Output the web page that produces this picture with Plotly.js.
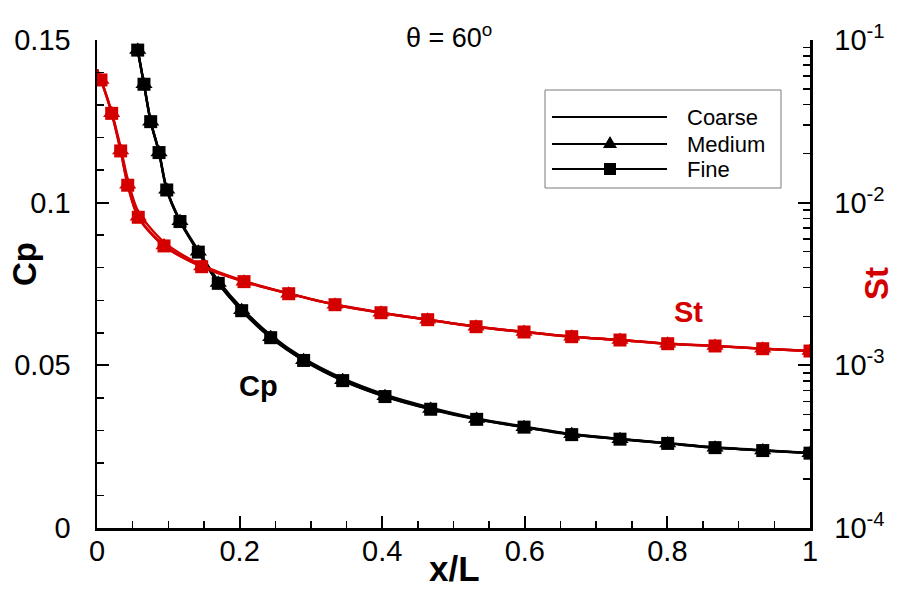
<!DOCTYPE html>
<html>
<head>
<meta charset="utf-8">
<script src="https://cdn.plot.ly/plotly-3.0.1.min.js"></script>
<style>
  html, body { margin: 0; padding: 0; background: #fff; }
  #chart { width: 901px; height: 591px; }
</style>
</head>
<body>
<div id="chart"></div>
<script>
// ---------------- data ----------------
// Cp (left axis), shared x stations of the marked grids
const cpX = [0.0571, 0.0659, 0.0753, 0.0870, 0.0978, 0.1164, 0.1421, 0.1701, 0.2029, 0.2436, 0.2898,
             0.3446, 0.4039, 0.4680, 0.5325, 0.5989, 0.6658, 0.7335, 0.8004, 0.8668, 0.9337, 1.0];
const cpCoarse = [0.1469, 0.1364, 0.1250, 0.1156, 0.1042, 0.0946, 0.0853, 0.0760, 0.0676, 0.0593, 0.0522,
                  0.0460, 0.0410, 0.0370, 0.0337, 0.0312, 0.0289, 0.0274, 0.0261, 0.0248, 0.0239, 0.0231];
const cpMedium = [0.1469, 0.1364, 0.1249, 0.1154, 0.1040, 0.0943, 0.0849, 0.0753, 0.0669, 0.0586, 0.0516,
                  0.0454, 0.0405, 0.0366, 0.0335, 0.0310, 0.0288, 0.0273, 0.0260, 0.0247, 0.0238, 0.0230];
const cpFine   = [0.1469, 0.1364, 0.1249, 0.1154, 0.1039, 0.0942, 0.0848, 0.0752, 0.0668, 0.0585, 0.0515,
                  0.0453, 0.0404, 0.0365, 0.0334, 0.0310, 0.0287, 0.0273, 0.0260, 0.0247, 0.0238, 0.0230];

// St (right, log axis); first station (x = 0) is the start of the curve, no marker there
const stX = [0, 0.0056, 0.0206, 0.0332, 0.0431, 0.0579, 0.0940, 0.1468, 0.2062, 0.2689, 0.3338,
             0.3983, 0.4638, 0.5316, 0.5989, 0.6658, 0.7335, 0.8004, 0.8668, 0.9337, 1.0];
const stCoarse = [0.066, 0.0570, 0.0360, 0.0218, 0.0139, 0.00880, 0.00572, 0.00413, 0.00330, 0.002766, 0.002364,
                  0.002110, 0.001911, 0.001730, 0.001605, 0.001502, 0.001432, 0.001359, 0.001316, 0.001266, 0.001225];
const stMedium = [0.066, 0.0568, 0.0355, 0.0209, 0.0129, 0.00818, 0.00545, 0.00405, 0.00327, 0.002757, 0.002360,
                  0.002106, 0.001908, 0.001728, 0.001603, 0.001500, 0.001431, 0.001358, 0.001315, 0.001265, 0.001224];
const stFine   = [0.066, 0.0568, 0.0354, 0.0208, 0.0128, 0.00813, 0.00542, 0.00404, 0.00327, 0.002756, 0.002359,
                  0.002106, 0.001908, 0.001728, 0.001603, 0.001500, 0.001431, 0.001358, 0.001315, 0.001265, 0.001224];

const gridNames = ["Coarse", "Medium", "Fine"];
const xTickVals = [0, 0.2, 0.4, 0.6, 0.8, 1];
const cpTickVals = [0, 0.05, 0.1, 0.15];
const stTickVals = [1e-4, 1e-3, 1e-2, 1e-1];
const stTickText = ["10<sup>-4</sup>", "10<sup>-3</sup>", "10<sup>-2</sup>", "10<sup>-1</sup>"];
const titleText = "θ = 60<sup>o</sup>";

// ---------------- styling ----------------
const RED = "#d40000";
const BLACK = "#000000";
const FONT = "Liberation Sans, Arial, Helvetica, sans-serif";
const W = 901, H = 591;
const M = { l: 97, r: 91, t: 40, b: 63 };
const PW = W - M.l - M.r, PH = H - M.t - M.b;
const px2x = p => (p - M.l) / PW;          // pixel -> paper x
const px2y = p => (H - M.b - p) / PH;      // pixel -> paper y

const symbols = { Coarse: null, Medium: "triangle-up", Fine: "square" };
const msize = { Medium: 15, Fine: 13 };

const traces = [];
function addSeries(name, x, y, yaxis, color, skipFirst) {
  traces.push({
    type: "scatter", mode: "lines", x: x, y: y, yaxis: yaxis,
    line: { color: color, width: 2.4, shape: "spline", smoothing: 0.8 },
    hoverinfo: "skip", showlegend: false, name: name
  });
  if (symbols[name]) {
    const mx = skipFirst ? x.slice(1) : x;
    const my = skipFirst ? y.slice(1) : y;
    traces.push({
      type: "scatter", mode: "markers", x: mx, y: my, yaxis: yaxis,
      marker: { symbol: symbols[name], size: msize[name], color: color, line: { width: 0 } },
      showlegend: false, name: name
    });
  }
}
const cpData = { Coarse: cpCoarse, Medium: cpMedium, Fine: cpFine };
const stData = { Coarse: stCoarse, Medium: stMedium, Fine: stFine };
gridNames.forEach(g => addSeries(g, stX, stData[g], "y2", RED, true));
gridNames.forEach(g => addSeries(g, cpX, cpData[g], "y", BLACK, false));

// minor tick positions for the log axis (2..9 per decade)
const stMinor = [];
[1e-4, 1e-3, 1e-2].forEach(d => { for (let k = 2; k <= 9; k++) stMinor.push(d * k); });

const axisCommon = {
  showgrid: false, zeroline: false, showline: true, linecolor: BLACK, linewidth: 2.5,
  ticks: "inside", ticklen: 12, tickwidth: 2, tickcolor: BLACK,
  tickfont: { family: FONT, size: 29, color: BLACK }
};

// ---------------- manual legend ----------------
const shapes = [];
const annotations = [];
shapes.push({ type: "rect", xref: "paper", yref: "paper",
  x0: px2x(545), x1: px2x(781), y0: px2y(90), y1: px2y(188),
  line: { color: "#7a7a7a", width: 1 }, fillcolor: "rgba(255,255,255,1)", layer: "above" });
const legRows = [117, 144, 169];
gridNames.forEach((g, i) => {
  const yy = legRows[i];
  shapes.push({ type: "line", xref: "paper", yref: "paper",
    x0: px2x(552), x1: px2x(667), y0: px2y(yy), y1: px2y(yy),
    line: { color: BLACK, width: 2 }, layer: "above" });
  if (g === "Medium") {
    const cx = 610, cy = yy;
    shapes.push({ type: "path", xref: "paper", yref: "paper", layer: "above",
      path: `M ${px2x(cx - 7)} ${px2y(cy + 4)} L ${px2x(cx + 7)} ${px2y(cy + 4)} L ${px2x(cx)} ${px2y(cy - 8)} Z`,
      fillcolor: BLACK, line: { width: 0 } });
  }
  if (g === "Fine") {
    const cx = 610, cy = yy;
    shapes.push({ type: "rect", xref: "paper", yref: "paper", layer: "above",
      x0: px2x(cx - 6), x1: px2x(cx + 6), y0: px2y(cy + 6), y1: px2y(cy - 6),
      fillcolor: BLACK, line: { width: 0 } });
  }
  annotations.push({ xref: "paper", yref: "paper", x: px2x(685), y: px2y(yy),
    xanchor: "left", yanchor: "middle", text: g, showarrow: false,
    font: { family: FONT, size: 22, color: BLACK } });
});

// ---------------- texts ----------------
annotations.push({ xref: "paper", yref: "paper", x: px2x(449), y: px2y(36), xanchor: "center", yanchor: "middle",
  text: titleText, showarrow: false, font: { family: FONT, size: 27, color: BLACK } });
annotations.push({ xref: "paper", yref: "paper", x: px2x(258), y: px2y(386), xanchor: "center", yanchor: "middle",
  text: "<b>Cp</b>", showarrow: false, font: { family: FONT, size: 29, color: BLACK } });
annotations.push({ xref: "paper", yref: "paper", x: px2x(688), y: px2y(312), xanchor: "center", yanchor: "middle",
  text: "<b>St</b>", showarrow: false, font: { family: FONT, size: 29, color: RED } });
annotations.push({ xref: "paper", yref: "paper", x: px2x(454), y: px2y(590), xanchor: "center", yanchor: "bottom",
  text: "<b>x/L</b>", showarrow: false, font: { family: FONT, size: 35, color: BLACK } });
annotations.push({ xref: "paper", yref: "paper", x: px2x(24), y: px2y(264), xanchor: "center", yanchor: "middle",
  text: "<b>Cp</b>", textangle: -90, showarrow: false, font: { family: FONT, size: 33, color: BLACK } });
annotations.push({ xref: "paper", yref: "paper", x: px2x(876), y: px2y(284), xanchor: "center", yanchor: "middle",
  text: "<b>St</b>", textangle: -90, showarrow: false, font: { family: FONT, size: 33, color: RED } });

const layout = {
  width: W, height: H, margin: M,
  paper_bgcolor: "#ffffff", plot_bgcolor: "#ffffff",
  showlegend: false,
  font: { family: FONT, color: BLACK },
  xaxis: Object.assign({}, axisCommon, {
    range: [0, 1], tickmode: "array", tickvals: xTickVals, ticklabelstandoff: -4,
    mirror: false,
    minor: { ticks: "inside", ticklen: 7, tickwidth: 1.5, tickcolor: BLACK, dtick: 0.05, tick0: 0, showgrid: false }
  }),
  yaxis: Object.assign({}, axisCommon, {
    range: [0, 0.15], tickmode: "array", tickvals: cpTickVals, ticklabelstandoff: 18,
    minor: { ticks: "inside", ticklen: 7, tickwidth: 1.5, tickcolor: BLACK, dtick: 0.01, tick0: 0, showgrid: false }
  }),
  yaxis2: Object.assign({}, axisCommon, {
    type: "log", range: [-4, -1], overlaying: "y", side: "right", anchor: "x",
    tickmode: "array", tickvals: stTickVals, ticktext: stTickText, ticklabelstandoff: 16,
    minor: { ticks: "inside", ticklen: 7, tickwidth: 1.5, tickcolor: BLACK, tickmode: "array", tickvals: stMinor, showgrid: false }
  }),
  shapes: shapes,
  annotations: annotations
};

Plotly.newPlot("chart", traces, layout, { displayModeBar: false, staticPlot: true });
</script>
</body>
</html>
